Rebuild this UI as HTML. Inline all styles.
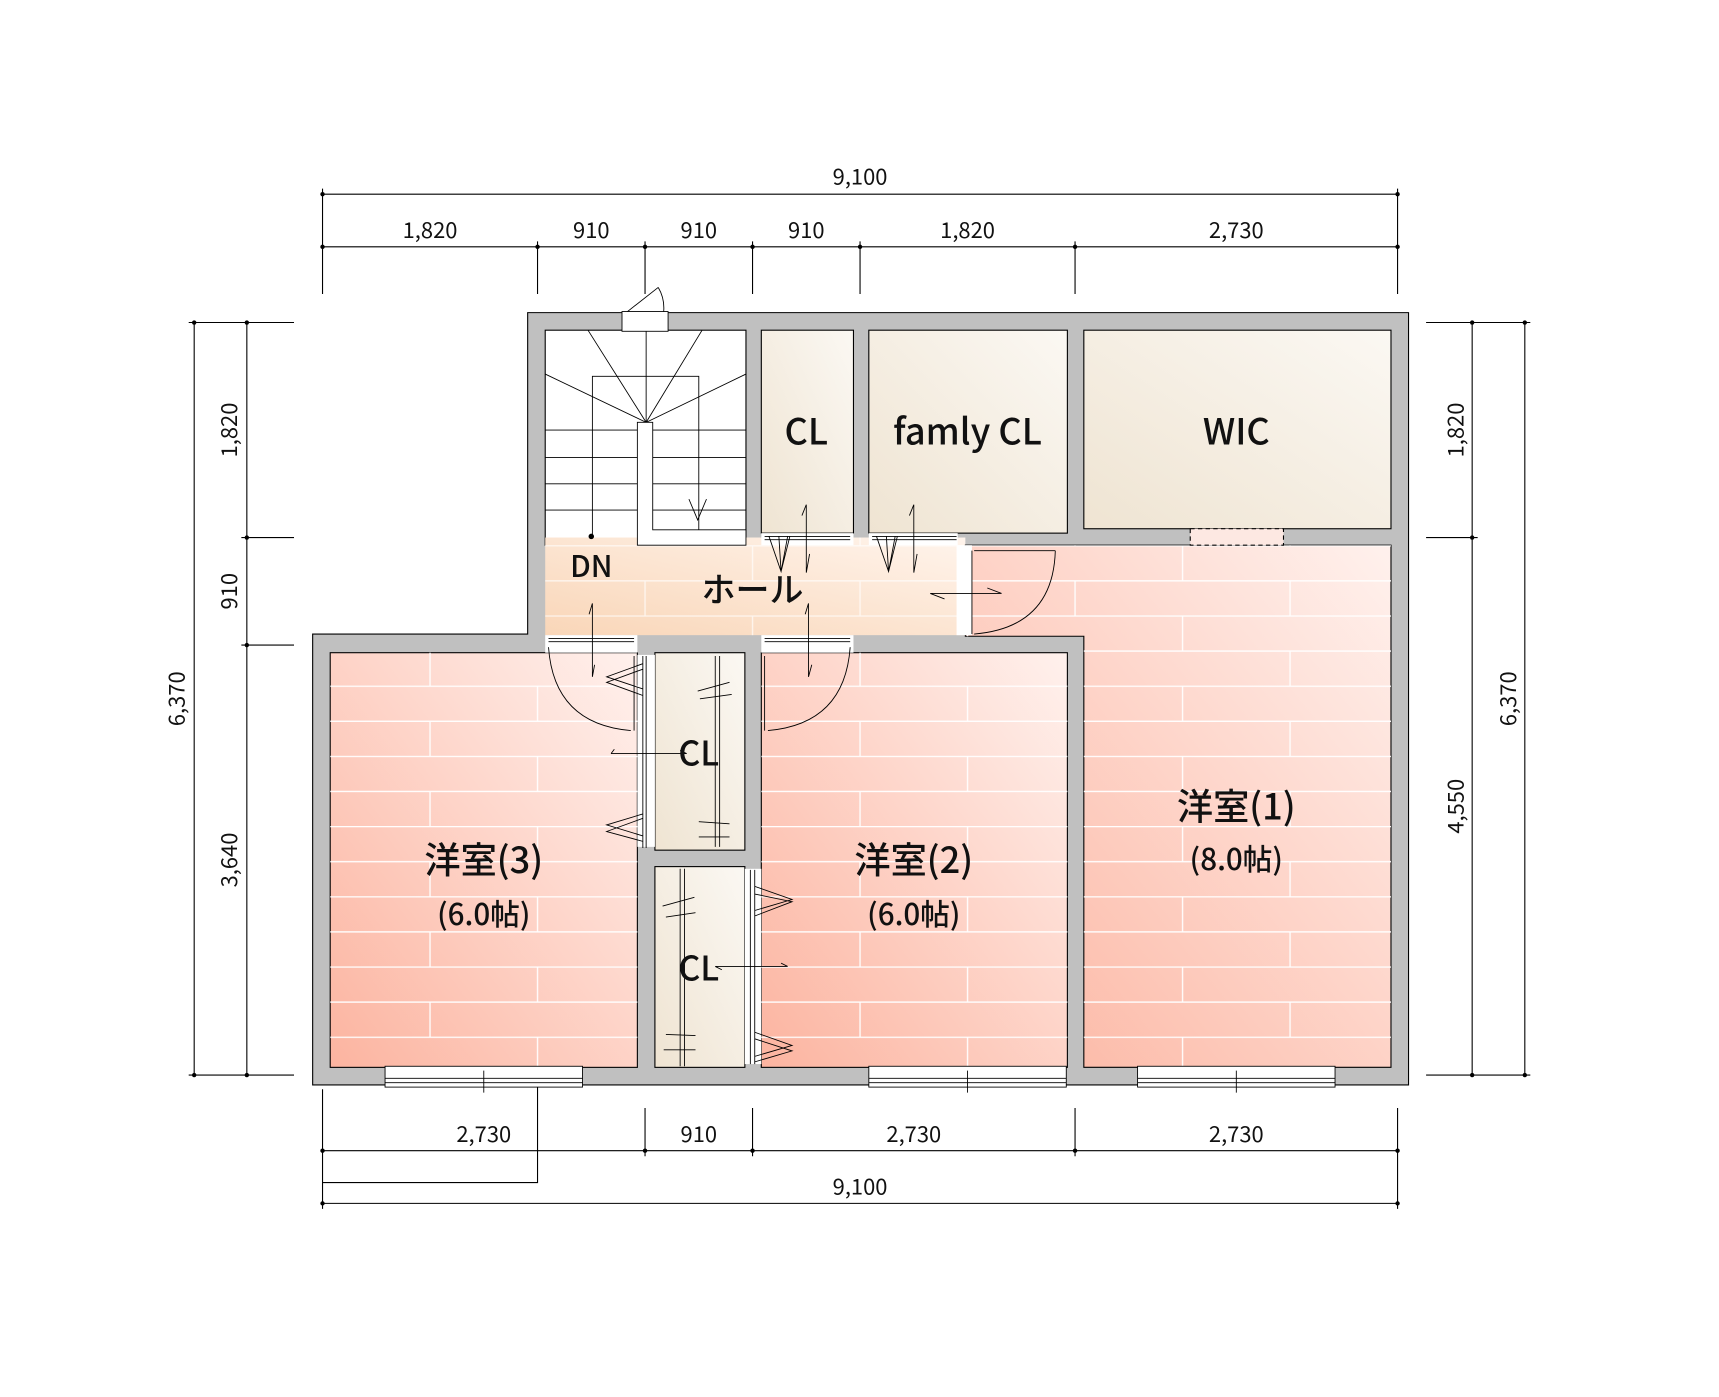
<!DOCTYPE html>
<html><head><meta charset="utf-8"><style>
html,body{margin:0;padding:0;background:#fff}
svg{display:block}
text{font-family:"Noto Sans CJK JP","Liberation Sans",sans-serif;fill:#111}
.lb{font-weight:500}
</style></head><body>
<svg width="1719" height="1397" viewBox="0 0 1567 1273.5" xmlns="http://www.w3.org/2000/svg">
<defs>
<linearGradient id="pk" x1="0" y1="1" x2="1" y2="0">
<stop offset="0" stop-color="#fcb4a0"/><stop offset="1" stop-color="#fff1ed"/></linearGradient>
<linearGradient id="cr" x1="0" y1="1" x2="1" y2="0">
<stop offset="0" stop-color="#efe4d2"/><stop offset="1" stop-color="#fbf8f3"/></linearGradient>
<linearGradient id="hl" x1="0" y1="1" x2="1" y2="0">
<stop offset="0" stop-color="#f9d6b8"/><stop offset="1" stop-color="#fff4ec"/></linearGradient>
<pattern id="pl" x="0" y="497" width="196" height="64" patternUnits="userSpaceOnUse">
<path d="M0 0.5H196M0 32.5H196M98 0V32M0 32V64M196 32V64" stroke="#fff" stroke-width="1.2" fill="none"/>
</pattern>
</defs>

<path d="M481 285H1284V989H285V578H481Z" fill="#c0c0c0" stroke="#000" stroke-width="1"/>

<rect x="497" y="301" width="183" height="196" fill="#fff" stroke="#000"/>
<rect x="694" y="301" width="84" height="185" fill="url(#cr)" stroke="#000"/>
<rect x="792" y="301" width="181" height="185" fill="url(#cr)" stroke="#000"/>
<rect x="988" y="301" width="280" height="181" fill="url(#cr)" stroke="#000"/>
<rect x="497" y="490" width="383" height="89" fill="url(#hl)"/>
<rect x="497" y="490" width="383" height="89" fill="url(#pl)" opacity=".7"/>
<path d="M880 497H1268V973H988V580H880Z" fill="url(#pk)" stroke="#000"/>
<path d="M880 497H1268V973H988V580H880Z" fill="url(#pl)"/>
<rect x="301" y="595" width="280" height="378" fill="url(#pk)" stroke="#000"/>
<rect x="301" y="595" width="280" height="378" fill="url(#pl)"/>
<rect x="694" y="595" width="279" height="378" fill="url(#pk)" stroke="#000"/>
<rect x="694" y="595" width="279" height="378" fill="url(#pl)"/>
<rect x="597" y="595" width="82" height="180" fill="url(#cr)" stroke="#000"/>
<rect x="597" y="790" width="82" height="183" fill="url(#cr)" stroke="#000"/>

<g fill="#fff">
<rect x="694" y="486" width="84" height="11"/><rect x="792" y="486" width="81" height="11"/>
<rect x="497" y="579" width="84" height="16"/><rect x="694" y="579" width="84" height="16"/>
<rect x="581" y="597" width="16" height="175"/><rect x="679" y="792" width="15" height="178"/>
<rect x="872" y="497" width="14" height="82"/>
</g>
<rect x="1085" y="482" width="85" height="15" fill="#fde8e2" stroke="#000" stroke-dasharray="4,3"/>

<g stroke="#000" stroke-width="0.8" fill="none">
<path d="M497 392H680M497 417H680M497 441H680M497 465H680M540 490V343H637V483"/>
<path d="M589 301V385M536 301L589 385M640 301L589 385M497 341L589 385M680 341L589 385"/>
<path d="M581 385H595V483H680V497H581Z" fill="#fff"/>
<path d="M628 455L636 474L644 455"/>
<rect x="567" y="284" width="42" height="18" fill="#fff"/>
<path d="M572 284L600 262M600 262Q606 272 605 284"/>
<path d="M697 489H775M697 492H775M701 489L712 521L718 489M710 489L712 521L720 489M795 489H872M795 492H872M799 489L810 521L816 489M808 489L810 521L818 489"/>
<path d="M735 460V522M731 470L735 460M738 505L735 522M833 460V522M829 470L833 460M836 505L833 522"/>
<path d="M886 502V578M888 502H962M888 578Q960 572 962 502"/>
<path d="M848 541H913M848 541L861 546M900 536L913 541"/>
<path d="M500 582H578M500 585H578M578 598V666M500 590Q505 660 575 666"/>
<path d="M540 550V617M537 560L540 550M542 606L540 617"/>
<path d="M697 582H775M697 585H775M697 598V666M775 590Q770 660 700 666"/>
<path d="M737 550V617M734 560L737 550M740 606L737 617"/>
<path d="M586 598V773M589 598V773M586 605L553 617L586 628M586 610L553 622L586 634M586 742L553 752L586 762M586 746L553 758L586 767"/>
<path d="M557 687H626M560 683L557 687M620 684L626 687"/>
<path d="M652 598V772M656 598V772M636 630L665 622M638 637L667 633M637 749L665 751M637 763L665 763"/>
<path d="M684 793V970M688 793V970M688 808L722 820L688 830M688 815L722 822L688 835M688 941L722 953L688 963M688 947L722 958L688 968"/>
<path d="M652 881H718M658 884L652 881M712 878L718 881"/>
<path d="M620 792V972M624 792V972M604 826L633 818M607 836L634 832M607 943L634 944M605 957L634 957"/>
<rect x="351" y="972" width="180" height="19" fill="#fff"/><path d="M351 987H531M351 983H531M441 976V996"/>
<rect x="792" y="972" width="180" height="19" fill="#fff"/><path d="M792 987H972M792 983H972M882 976V996"/>
<rect x="1037" y="972" width="180" height="19" fill="#fff"/><path d="M1037 987H1217M1037 983H1217M1127 976V996"/>
</g>
<circle cx="539" cy="489" r="2.5"/>

<g stroke="#000" stroke-width="1" fill="none">
<path d="M294 177H1274M294 225H1274"/>
<path d="M294 172V268M490 220V268M588 220V268M686 220V268M784 220V268M980 220V268M1274 172V268"/>
<path d="M294 1049H1274M294 1097H1274M294 993V1102M294 1078H490V991M588 1010V1054M686 1010V1054M980 1010V1054M1274 1010V1102"/>
<path d="M177 294V980M225 294V980M172 294H268M220 490H268M220 588H268M172 980H268"/>
<path d="M1342 294V980M1390 294V980M1300 294H1395M1300 490H1347M1300 980H1395"/>
</g>
<g fill="#000">
<circle cx="294" cy="177" r="2"/><circle cx="1274" cy="177" r="2"/>
<circle cx="294" cy="225" r="2"/><circle cx="490" cy="225" r="2"/><circle cx="588" cy="225" r="2"/><circle cx="686" cy="225" r="2"/><circle cx="784" cy="225" r="2"/><circle cx="980" cy="225" r="2"/><circle cx="1274" cy="225" r="2"/>
<circle cx="294" cy="1049" r="2"/><circle cx="588" cy="1049" r="2"/><circle cx="686" cy="1049" r="2"/><circle cx="980" cy="1049" r="2"/><circle cx="1274" cy="1049" r="2"/>
<circle cx="294" cy="1097" r="2"/><circle cx="1274" cy="1097" r="2"/>
<circle cx="177" cy="294" r="2"/><circle cx="177" cy="980" r="2"/><circle cx="225" cy="294" r="2"/><circle cx="225" cy="490" r="2"/><circle cx="225" cy="588" r="2"/><circle cx="225" cy="980" r="2"/>
<circle cx="1342" cy="294" r="2"/><circle cx="1342" cy="490" r="2"/><circle cx="1342" cy="980" r="2"/><circle cx="1390" cy="294" r="2"/><circle cx="1390" cy="980" r="2"/>
</g>

<g font-size="20" text-anchor="middle">
<text x="784" y="168">9,100</text>
<text x="392" y="217">1,820</text><text x="539" y="217">910</text><text x="637" y="217">910</text><text x="735" y="217">910</text><text x="882" y="217">1,820</text><text x="1127" y="217">2,730</text>
<text x="441" y="1041">2,730</text><text x="637" y="1041">910</text><text x="833" y="1041">2,730</text><text x="1127" y="1041">2,730</text>
<text x="784" y="1089">9,100</text>
<text transform="translate(168,637) rotate(-90)">6,370</text>
<text transform="translate(216,392) rotate(-90)">1,820</text>
<text transform="translate(216,539) rotate(-90)">910</text>
<text transform="translate(216,784) rotate(-90)">3,640</text>
<text transform="translate(1334,392) rotate(-90)">1,820</text>
<text transform="translate(1334,735) rotate(-90)">4,550</text>
<text transform="translate(1382,637) rotate(-90)">6,370</text>
</g>

<g text-anchor="middle" class="lb">
<text x="735" y="405" font-size="33">CL</text>
<text x="882" y="405" font-size="33">famly CL</text>
<text x="1127" y="405" font-size="33">WIC</text>
<text x="539" y="526" font-size="27">DN</text>
<text x="686" y="549" font-size="31">ホール</text>
<text x="637" y="698" font-size="31">CL</text>
<text x="637" y="894" font-size="31">CL</text>
<text x="441" y="796" font-size="33">洋室(3)</text>
<text x="441" y="843" font-size="27">(6.0帖)</text>
<text x="833" y="796" font-size="33">洋室(2)</text>
<text x="833" y="843" font-size="27">(6.0帖)</text>
<text x="1127" y="747" font-size="33">洋室(1)</text>
<text x="1127" y="793" font-size="27">(8.0帖)</text>
</g>
</svg>
</body></html>
